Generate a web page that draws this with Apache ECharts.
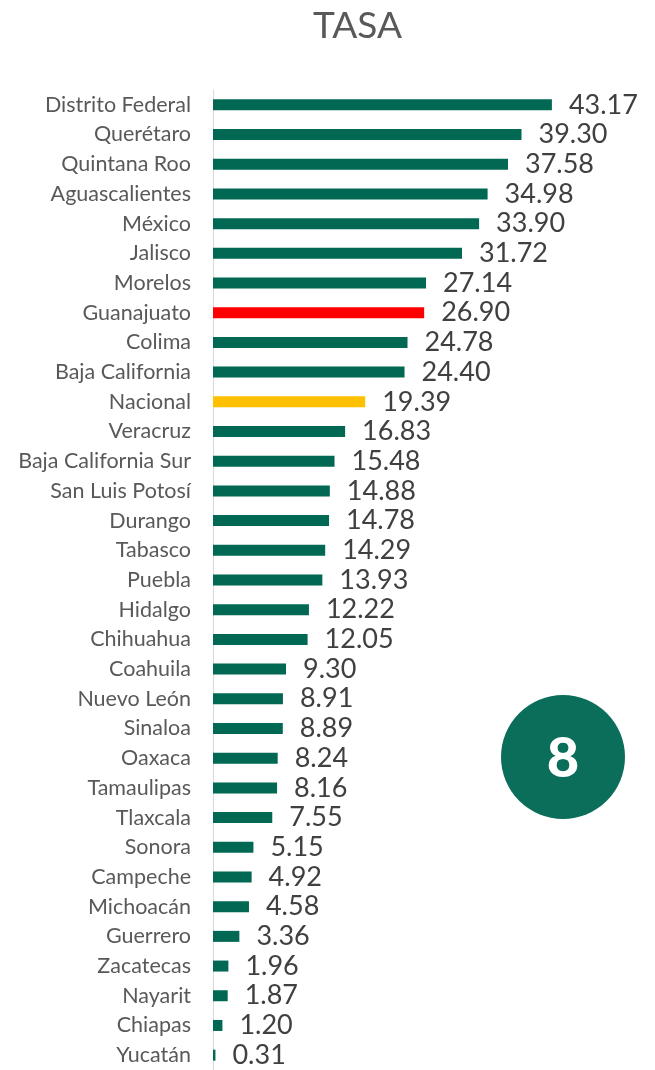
<!DOCTYPE html>
<html>
<head>
<meta charset="utf-8">
<script src="https://cdn.jsdelivr.net/npm/echarts@6/dist/echarts.min.js"></script>
<style>
  html, body { margin: 0; padding: 0; background: #fff; }
  #chart { width: 655px; height: 1070px; }
</style>
</head>
<body>
<div id="chart"></div>
<script>
// estados, de mayor a menor
const estados = ['Distrito Federal', 'Querétaro', 'Quintana Roo', 'Aguascalientes', 'México', 'Jalisco',
  'Morelos', 'Guanajuato', 'Colima', 'Baja California', 'Nacional', 'Veracruz', 'Baja California Sur',
  'San Luis Potosí', 'Durango', 'Tabasco', 'Puebla', 'Hidalgo', 'Chihuahua', 'Coahuila', 'Nuevo León',
  'Sinaloa', 'Oaxaca', 'Tamaulipas', 'Tlaxcala', 'Sonora', 'Campeche', 'Michoacán', 'Guerrero',
  'Zacatecas', 'Nayarit', 'Chiapas', 'Yucatán']
const tasa = [43.17, 39.30, 37.58, 34.98, 33.90, 31.72, 27.14, 26.90, 24.78, 24.40, 19.39, 16.83, 15.48,
  14.88, 14.78, 14.29, 13.93, 12.22, 12.05, 9.30, 8.91, 8.89, 8.24, 8.16, 7.55, 5.15, 4.92, 4.58, 3.36,
  1.96, 1.87, 1.20, 0.31]
const lugar = '8'

const verde = '#006853'
const colores = { 'Guanajuato': '#FF0000', 'Nacional': '#FFC000' }

let myChart = echarts.init(document.getElementById('chart'))
let fuente = 'Lato, "Noto Sans", sans-serif'

let option = {
  backgroundColor: '#fff',
  animation: false,
  title: {
    text: 'TASA',
    left: 308,
    top: 3,
    textStyle: { color: '#595959', fontSize: 37, fontWeight: 'normal', fontFamily: fuente }
  },
  grid: { left: 213, top: 90, width: 392.5, height: 982 },
  xAxis: {
    type: 'value',
    min: 0,
    max: 50,
    show: false
  },
  yAxis: {
    type: 'category',
    inverse: true,
    data: estados,
    axisLine: { show: true, lineStyle: { color: '#D9D9D9', width: 1 } },
    axisTick: { show: false },
    axisLabel: { color: '#595959', fontSize: 21.5, margin: 22, fontFamily: fuente }
  },
  series: [{
    type: 'bar',
    barWidth: 11,
    data: tasa.map(function (v, i) {
      return { value: v, itemStyle: { color: colores[estados[i]] || verde } }
    }),
    label: {
      show: true,
      position: 'right',
      distance: 17,
      color: '#404040',
      fontSize: 27,
      fontFamily: fuente,
      formatter: function (p) { return p.value.toFixed(2) }
    }
  }],
  graphic: [{
    type: 'circle',
    shape: { cx: 563, cy: 757, r: 62 },
    style: { fill: '#0A6E5A' }
  }, {
    type: 'text',
    x: 563,
    y: 759,
    style: {
      text: lugar,
      fill: '#fff',
      font: '900 56px ' + fuente,
      align: 'center',
      verticalAlign: 'middle'
    }
  }]
}
myChart.setOption(option)
</script>
</body>
</html>
